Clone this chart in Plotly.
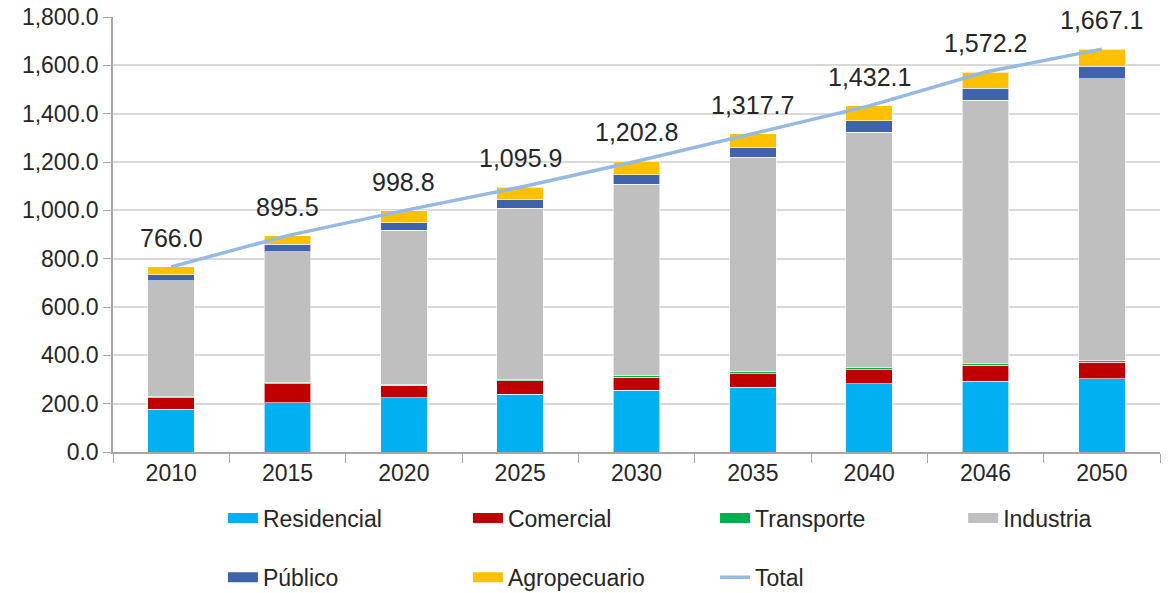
import plotly.graph_objects as go

years = ["2010", "2015", "2020", "2025", "2030", "2035", "2040", "2046", "2050"]

residencial = [177, 203, 225, 240, 255, 268, 283, 293, 303]
comercial = [48, 80, 51, 54, 54, 56, 58, 67, 68]
transporte = [5, 5, 5, 5, 8, 10, 10, 5, 6]
industria = [478, 540, 637, 709, 790, 885, 972, 1090, 1167]
publico = [25, 32, 30, 36, 40, 40, 47, 51, 52]
agropecuario = [33, 35.5, 50.8, 51.9, 55.8, 58.7, 62.1, 66.2, 71.1]
total = [766.0, 895.5, 998.8, 1095.9, 1202.8, 1317.7, 1432.1, 1572.2, 1667.1]

FONT = "Liberation Sans"
TXT = "#262626"

series = [
    ("Residencial", residencial, "#00B0F0"),
    ("Comercial", comercial, "#C00000"),
    ("Transporte", transporte, "#00B050"),
    ("Industria", industria, "#BFBFBF"),
    ("Público", publico, "#3F64AC"),
    ("Agropecuario", agropecuario, "#FFC000"),
]

# legend slots (paper coords): two rows, four columns
leg_pos = [(0.105, -0.152), (0.339, -0.152), (0.575, -0.152), (0.812, -0.152),
           (0.105, -0.288), (0.339, -0.288), (0.575, -0.288)]
leg_ids = ["legend"] + [f"legend{i}" for i in range(2, 8)]

fig = go.Figure()
for i, (name, vals, col) in enumerate(series):
    fig.add_trace(go.Bar(
        x=years, y=vals, name=name, marker_color=col,
        marker_line=dict(color="rgba(255,255,255,0.6)", width=1),
        showlegend=False,
    ))
    # legend-only entry, drawn as a wide block like the original key
    fig.add_trace(go.Scatter(
        x=[None], y=[None], name=name, mode="lines",
        line=dict(color=col, width=13), legend=leg_ids[i],
    ))

fig.add_trace(go.Scatter(
    x=years, y=total, name="Total", mode="lines",
    line=dict(color="#95B9E3", width=3.5), legend=leg_ids[6],
))

for i, v in enumerate(total):
    fig.add_annotation(
        x=i, y=v, text=f"{v:,.1f}", showarrow=False,
        yshift=29, yanchor="middle",
        font=dict(family=FONT, size=25, color=TXT),
    )

legends = {}
for lid, (lx, ly) in zip(leg_ids, leg_pos):
    legends[lid] = dict(
        orientation="h", xanchor="left", yanchor="middle", x=lx, y=ly,
        font=dict(family=FONT, size=23, color=TXT),
        bgcolor="rgba(0,0,0,0)",
    )

fig.update_layout(
    width=1173, height=593,
    margin=dict(l=113, r=13, t=17, b=141, autoexpand=False),
    barmode="stack", bargap=0.6, showlegend=True,
    plot_bgcolor="white", paper_bgcolor="white",
    font=dict(family=FONT, size=23, color=TXT),
    **legends,
)

fig.update_xaxes(
    type="category", range=[-0.5, len(years) - 0.5],
    showline=True, linecolor="#A6A6A6", linewidth=1.5,
    ticks="outside", tickson="boundaries", ticklen=9, tickcolor="#A6A6A6",
    tickfont=dict(family=FONT, size=23, color=TXT),
    showgrid=False,
)
fig.update_yaxes(
    range=[0, 1800], dtick=200, tickformat=",.1f",
    showline=True, linecolor="#A6A6A6", linewidth=1.5,
    ticks="outside", ticklen=8, tickcolor="#A6A6A6",
    gridcolor="#D9D9D9", gridwidth=1.5, zeroline=False,
    ticklabeloverflow="allow",
    tickfont=dict(family=FONT, size=23, color=TXT),
)

# drop the default 8px page margin so the figure fills the window
fig.write_html(
    "out.html",
    config={"displayModeBar": False},
    post_script="document.body.style.margin = '0';",
)
